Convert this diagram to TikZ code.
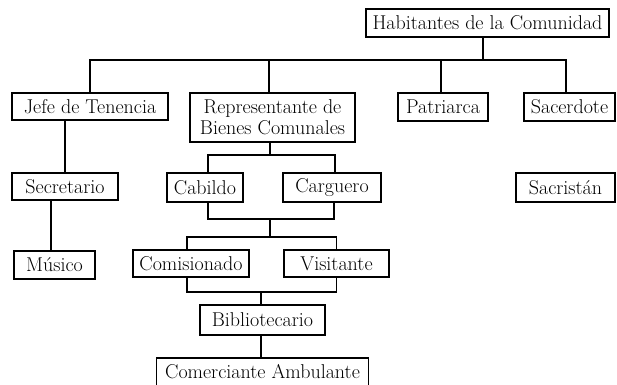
\documentclass[tikz,border=0pt]{standalone}
\usepackage{fontspec}
\begin{document}
\begin{tikzpicture}[x=1pt,y=-1pt,
  box/.style={draw,line width=1.5pt,inner sep=0pt,align=center,
    font=\fontsize{20}{21}\selectfont\addfontfeatures{FakeBold=0.7}},
  conn/.style={line width=1.5pt}]
\useasboundingbox (0,0) rectangle (617,384);
\fill[white] (0,0) rectangle (617,384);
% nodes
\node[box,minimum width=243pt,minimum height=28pt] (hab) at (487.5,23) {Habitantes de la Comunidad};
\node[box,minimum width=156pt,minimum height=27pt] (jefe) at (90,106.5) {Jefe de Tenencia};
\node[box,minimum width=165pt,minimum height=49pt] (rep) at (272.5,117.5) {Representante de\\Bienes Comunales};
\node[box,minimum width=90pt,minimum height=28pt] (pat) at (443,107) {Patriarca};
\node[box,minimum width=91pt,minimum height=28pt] (sac) at (569.5,107) {Sacerdote};
\node[box,minimum width=106pt,minimum height=27pt] (secr) at (65,186.5) {Secretario};
\node[box,minimum width=76pt,minimum height=29pt] (cab) at (205,187.5) {Cabildo};
\node[box,minimum width=98pt,minimum height=29pt] (carg) at (332,187.5) {Carguero};
\node[box,minimum width=99pt,minimum height=29pt] (sacr) at (565.5,187.5) {Sacristán};
\node[box,minimum width=81pt,minimum height=28pt] (mus) at (54.5,265) {Músico};
\node[box,minimum width=116pt,minimum height=27pt] (com) at (191,263.5) {Comisionado};
\node[box,minimum width=105pt,minimum height=27pt] (vis) at (336.5,263.5) {Visitante};
\node[box,minimum width=125pt,minimum height=30pt] (bib) at (262.5,320) {Bibliotecario};
\node[box,minimum width=212pt,minimum height=28pt] (comer) at (262.5,372) {Comerciante Ambulante};
% bus coordinates
\coordinate (b1) at (483,60);
\coordinate (b2) at (270,155);
\coordinate (b3) at (270,219);
\coordinate (b4) at (270,237);
\coordinate (b5) at (261,292);
% connectors
\draw[conn] (hab.south -| b1) -- (b1);
\draw[conn] (jefe.north) |- (b1);
\draw[conn] ([xshift=-3.5pt]sac.north) |- (b1);
\draw[conn] ([xshift=-3.5pt]rep.north) -- ([xshift=-3.5pt]rep.north |- b1);
\draw[conn] ([xshift=-2pt]pat.north) -- ([xshift=-2pt]pat.north |- b1);
\draw[conn] (secr.north) -- (secr.north |- jefe.south);
\draw[conn] ([xshift=-3.5pt]mus.north) -- ([xshift=-3.5pt]mus.north |- secr.south);
\draw[conn] (rep.south -| b2) -- (b2);
\draw[conn] ([xshift=3pt]cab.north) |- (b2) -| ([xshift=3pt]carg.north);
\draw[conn] ([xshift=3pt]cab.south) |- (b3) -| ([xshift=2pt]carg.south);
\draw[conn] (b3) -- (b4);
\draw[conn] ([xshift=-4pt]com.north) |- (b4) -| (vis.north);
\draw[conn] ([xshift=-4pt]com.south) |- (b5) -| (vis.south);
\draw[conn] (bib.north -| b5) -- (b5);
\draw[conn] (bib.south -| b5) -- (comer.north -| b5);
\end{tikzpicture}
\end{document}
